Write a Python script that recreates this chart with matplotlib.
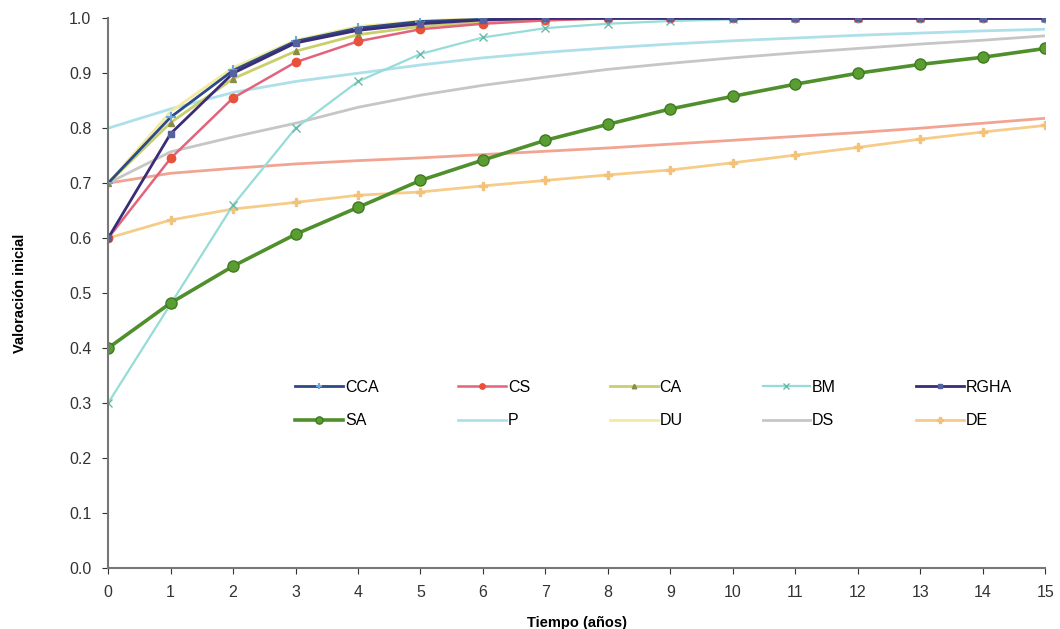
import numpy as np
import matplotlib.pyplot as plt

plt.rcParams['font.family'] = ['Liberation Sans', 'DejaVu Sans']

anios = list(range(16))

cca = [0.70, 0.82, 0.905, 0.958, 0.982, 0.994, 0.998, 1.0, 1.0, 1.0, 1.0, 1.0, 1.0, 1.0, 1.0, 1.0]
cs = [0.60, 0.745, 0.855, 0.92, 0.958, 0.98, 0.99, 0.996, 1.0, 1.0, 1.0, 1.0, 1.0, 1.0, 1.0, 1.0]
ca = [0.70, 0.81, 0.89, 0.94, 0.97, 0.985, 0.993, 0.997, 1.0, 1.0, 1.0, 1.0, 1.0, 1.0, 1.0, 1.0]
bm = [0.30, 0.48, 0.66, 0.80, 0.885, 0.935, 0.965, 0.982, 0.99, 0.995, 0.998, 1.0, 1.0, 1.0, 1.0, 1.0]
rgha = [0.60, 0.79, 0.90, 0.955, 0.978, 0.99, 0.997, 1.0, 1.0, 1.0, 1.0, 1.0, 1.0, 1.0, 1.0, 1.0]
sa = [0.40, 0.482, 0.549, 0.607, 0.656, 0.705, 0.742, 0.778, 0.807, 0.835, 0.858, 0.88, 0.90, 0.916, 0.929, 0.945]
p = [0.80, 0.835, 0.865, 0.885, 0.90, 0.915, 0.928, 0.938, 0.946, 0.953, 0.959, 0.964, 0.969, 0.973, 0.977, 0.98]
du = [0.70, 0.83, 0.91, 0.96, 0.985, 0.995, 1.0, 1.0, 1.0, 1.0, 1.0, 1.0, 1.0, 1.0, 1.0, 1.0]
ds = [0.70, 0.757, 0.784, 0.809, 0.838, 0.86, 0.878, 0.893, 0.907, 0.918, 0.928, 0.937, 0.945, 0.953, 0.96, 0.968]
de = [0.60, 0.633, 0.653, 0.665, 0.678, 0.684, 0.695, 0.705, 0.715, 0.724, 0.737, 0.751, 0.765, 0.78, 0.793, 0.805]
# linea salmon sin entrada en la leyenda
extra = [0.70, 0.718, 0.727, 0.735, 0.741, 0.746, 0.752, 0.758, 0.764, 0.771, 0.778, 0.785, 0.792, 0.800, 0.809, 0.818]

fig = plt.figure(figsize=(10.6, 6.29), dpi=100)
ax = fig.add_axes([0.102, 0.097, 0.884, 0.874])

ax.plot(anios, extra, color='#f2a493', lw=2, label='_nolegend_')
h_p, = ax.plot(anios, p, color='#aee0ea', lw=2, label='P')
h_ds, = ax.plot(anios, ds, color='#c6c6c6', lw=2, label='DS')
h_du, = ax.plot(anios, du, color='#f3eaa0', lw=2, label='DU')
h_de, = ax.plot(anios, de, color='#f6cc88', lw=2, marker='P', ms=6,
                mfc='#f2c27a', mec='#f2c27a', label='DE')
h_bm, = ax.plot(anios, bm, color='#96dcd8', lw=1.6, marker='x', ms=6,
                mec='#6ab8a8', label='BM')
h_sa, = ax.plot(anios, sa, color='#4f8f2c', lw=2.6, marker='o', ms=8,
                mfc='#5a9e32', mec='#3f7a22', label='SA')
h_ca, = ax.plot(anios, ca, color='#c9cf6a', lw=2, marker='^', ms=5,
                mfc='#8c8c48', mec='#8c8c48', label='CA')
h_cs, = ax.plot(anios, cs, color='#e2637c', lw=1.8, marker='o', ms=6,
                mfc='#e9513a', mec='#e9513a', label='CS')
h_cca, = ax.plot(anios, cca, color='#2c4a86', lw=2, marker='+', ms=7,
                 mec='#6fa8dc', mew=1.5, label='CCA')
h_rgha, = ax.plot(anios, rgha, color='#3b2c78', lw=2, marker='s', ms=5,
                  mfc='#55629e', mec='#55629e', label='RGHA')

ax.set_xlim(0, 15)
ax.set_ylim(0, 1.0)
ax.set_xticks(range(16))
ax.set_yticks(np.arange(0, 1.01, 0.1))
ax.set_yticklabels([f'{v:.1f}' for v in np.arange(0, 1.01, 0.1)])
ax.tick_params(labelsize=11.5, colors='#333333', length=4, pad=8)
ax.spines['top'].set_visible(False)
ax.spines['right'].set_visible(False)
ax.spines['left'].set_color('#777777')
ax.spines['bottom'].set_color('#777777')
ax.spines['left'].set_linewidth(1.5)
ax.spines['bottom'].set_linewidth(1.5)

ax.set_xlabel('Tiempo (años)', fontsize=10.5, fontweight='bold', labelpad=12)
ax.set_ylabel('Valoración inicial', fontsize=10.5, fontweight='bold', labelpad=30)

# orden por columnas para que quede CCA CS CA BM RGHA / SA P DU DS DE
orden = [h_cca, h_sa, h_cs, h_p, h_ca, h_du, h_bm, h_ds, h_rgha, h_de]
ax.legend(handles=orden, labels=[h.get_label() for h in orden], ncol=5,
          loc='center', bbox_to_anchor=(0.582, 0.298), frameon=False,
          fontsize=11.5, handlelength=3.0, columnspacing=5.0, handletextpad=0.1,
          labelspacing=1.15, markerscale=0.65)

fig.savefig('out.png', dpi=100)
